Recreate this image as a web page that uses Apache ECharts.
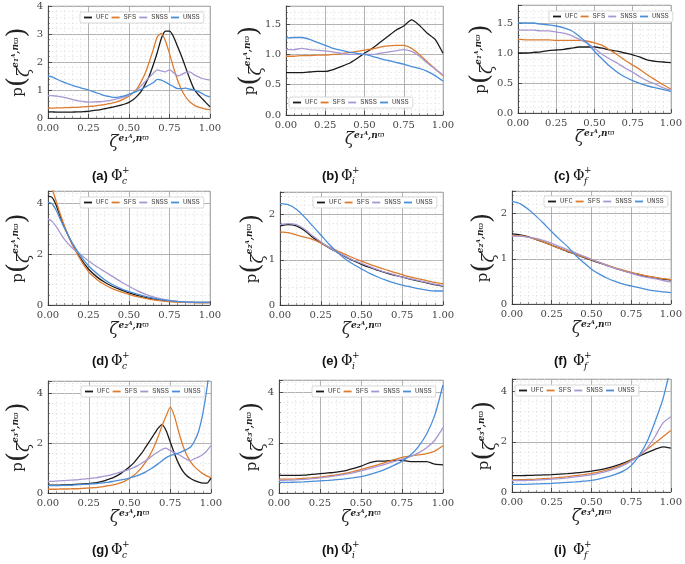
<!DOCTYPE html>
<html><head><meta charset="utf-8">
<script src="https://cdn.jsdelivr.net/npm/echarts@6/dist/echarts.min.js"></script>
<style>html,body{margin:0;padding:0;background:#fff}#c{width:685px;height:564px}</style>
</head><body><div id="c"></div>
<script>
const seriesNames = ['UFC','SFS','SNSS','UNSS'];
const seriesColors = ['#1a1a1a','#dd7c2e','#a898d2','#4a8ed8'];

const xs21 = [0,0.05,0.1,0.15,0.2,0.25,0.3,0.35,0.4,0.45,0.5,0.55,0.6,0.65,0.7,0.75,0.8,0.85,0.9,0.95,1];
const xs41 = [0,0.025,0.05,0.075,0.1,0.125,0.15,0.175,0.2,0.225,0.25,0.275,0.3,0.325,0.35,0.375,0.4,0.425,0.45,0.475,0.5,0.525,0.55,0.575,0.6,0.625,0.65,0.675,0.7,0.725,0.75,0.775,0.8,0.825,0.85,0.875,0.9,0.925,0.95,0.975,1];
const xsD = [0,0.025,0.05,0.075,0.1,0.15,0.2,0.25,0.3,0.35,0.4,0.45,0.5,0.55,0.6,0.65,0.7,0.75,0.8,0.85,0.9,0.95,1];
const xTicks = [0,0.25,0.5,0.75,1];

// (a)
const a_UFC  = [0.22,0.22,0.21,0.21,0.21,0.21,0.21,0.22,0.22,0.23,0.24,0.26,0.28,0.3,0.33,0.36,0.39,0.42,0.46,0.5,0.56,0.65,0.78,0.95,1.2,1.5,1.9,2.35,2.85,3.1,3.1,2.9,2.55,2.2,1.8,1.4,1.05,0.85,0.7,0.55,0.4];
const a_SFS  = [0.35,0.35,0.36,0.36,0.37,0.37,0.38,0.38,0.39,0.4,0.41,0.42,0.44,0.46,0.48,0.51,0.54,0.58,0.63,0.7,0.78,0.9,1.05,1.3,1.6,2.0,2.45,2.9,3.02,2.75,2.3,1.8,1.35,1.0,0.75,0.58,0.47,0.4,0.35,0.32,0.3];
const a_SNSS = [0.8,0.8,0.78,0.76,0.74,0.7,0.66,0.63,0.6,0.58,0.57,0.57,0.58,0.58,0.6,0.62,0.65,0.68,0.72,0.76,0.82,0.9,1.0,1.15,1.3,1.45,1.6,1.72,1.68,1.65,1.72,1.62,1.5,1.55,1.63,1.65,1.55,1.48,1.42,1.38,1.35];
const a_UNSS = [1.5,1.47,1.4,1.33,1.27,1.22,1.17,1.12,1.08,1.04,1.0,0.95,0.9,0.85,0.8,0.77,0.74,0.74,0.76,0.8,0.85,0.9,0.96,1.02,1.1,1.18,1.27,1.38,1.35,1.28,1.2,1.12,1.05,1.05,1.07,1.03,1.0,0.95,0.88,0.8,0.75];
// (b)
const b_UFC  = [0.7,0.7,0.7,0.71,0.72,0.72,0.75,0.8,0.85,0.93,1.02,1.1,1.2,1.3,1.4,1.47,1.57,1.48,1.35,1.25,1.02];
const b_SFS  = [0.97,0.97,0.98,0.98,0.99,0.99,1.0,1.01,1.03,1.05,1.07,1.09,1.12,1.14,1.15,1.15,1.1,1.0,0.88,0.76,0.65];
const b_SNSS = [1.08,1.08,1.1,1.08,1.07,1.06,1.04,1.02,1.0,1.0,1.0,1.0,1.02,1.04,1.06,1.08,1.05,0.97,0.86,0.76,0.66];
const b_UNSS = [1.27,1.28,1.28,1.25,1.2,1.15,1.1,1.07,1.04,1.02,1.0,0.97,0.93,0.9,0.87,0.84,0.8,0.77,0.72,0.65,0.56];
// (c)
const c_UFC  = [1.0,1.0,1.01,1.02,1.04,1.05,1.06,1.08,1.1,1.1,1.1,1.08,1.05,1.03,1.0,0.97,0.93,0.88,0.86,0.85,0.84];
const c_SFS  = [1.23,1.22,1.22,1.22,1.22,1.21,1.21,1.21,1.21,1.2,1.17,1.13,1.05,0.97,0.88,0.8,0.72,0.63,0.55,0.47,0.4];
const c_SNSS = [1.38,1.38,1.38,1.37,1.37,1.35,1.33,1.29,1.23,1.17,1.08,0.98,0.9,0.83,0.75,0.68,0.6,0.53,0.48,0.42,0.38];
const c_UNSS = [1.5,1.5,1.5,1.48,1.47,1.45,1.42,1.37,1.28,1.17,1.03,0.9,0.78,0.68,0.6,0.54,0.49,0.45,0.42,0.39,0.36];
// (d)
const d_UFC  = [4.3,4.25,3.95,3.5,3.1,2.4,1.85,1.42,1.12,0.9,0.73,0.6,0.48,0.38,0.3,0.24,0.19,0.16,0.13,0.11,0.1,0.1,0.1];
const d_SFS  = [5.0,4.6,4.1,3.6,3.15,2.4,1.8,1.32,1.02,0.8,0.64,0.52,0.42,0.33,0.26,0.2,0.16,0.13,0.11,0.1,0.09,0.08,0.08];
const d_SNSS = [3.4,3.3,3.1,2.85,2.6,2.25,2.0,1.75,1.52,1.32,1.12,0.92,0.74,0.57,0.43,0.32,0.24,0.18,0.14,0.12,0.1,0.09,0.09];
const d_UNSS = [4.05,4.0,3.75,3.4,3.05,2.45,1.95,1.55,1.25,1.0,0.8,0.65,0.53,0.43,0.34,0.27,0.21,0.17,0.14,0.12,0.11,0.1,0.1];
// (e)
const e_UFC  = [1.75,1.78,1.75,1.65,1.5,1.38,1.27,1.17,1.07,0.98,0.9,0.83,0.77,0.71,0.66,0.62,0.57,0.53,0.49,0.45,0.42];
const e_SFS  = [1.62,1.6,1.55,1.5,1.45,1.37,1.28,1.2,1.12,1.04,0.97,0.9,0.84,0.78,0.72,0.67,0.62,0.58,0.54,0.5,0.47];
const e_SNSS = [1.78,1.8,1.78,1.68,1.53,1.4,1.28,1.17,1.08,0.99,0.92,0.85,0.78,0.72,0.67,0.62,0.58,0.54,0.5,0.46,0.43];
const e_UNSS = [2.25,2.22,2.12,1.95,1.75,1.55,1.35,1.17,1.02,0.9,0.8,0.7,0.62,0.55,0.49,0.44,0.4,0.36,0.33,0.31,0.31];
// (f)
const f_UFC  = [1.55,1.53,1.49,1.43,1.37,1.3,1.23,1.16,1.1,1.03,0.97,0.91,0.85,0.79,0.74,0.69,0.65,0.61,0.58,0.55,0.53];
const f_SFS  = [1.52,1.51,1.48,1.43,1.37,1.3,1.23,1.17,1.1,1.04,0.98,0.92,0.86,0.8,0.75,0.7,0.66,0.62,0.59,0.56,0.54];
const f_SNSS = [1.5,1.5,1.48,1.45,1.4,1.34,1.27,1.2,1.13,1.06,0.99,0.92,0.85,0.79,0.73,0.68,0.63,0.59,0.56,0.52,0.49];
const f_UNSS = [2.27,2.22,2.1,1.95,1.78,1.6,1.43,1.27,1.08,0.92,0.77,0.66,0.57,0.5,0.44,0.4,0.36,0.32,0.29,0.27,0.25];
// (g)
const g_UFC  = [0.32,0.32,0.32,0.32,0.33,0.33,0.34,0.35,0.36,0.37,0.38,0.4,0.42,0.46,0.5,0.56,0.62,0.7,0.8,0.92,1.05,1.2,1.4,1.6,1.85,2.1,2.35,2.6,2.75,2.5,2.05,1.6,1.2,0.9,0.7,0.58,0.5,0.44,0.4,0.4,0.6];
const g_SFS  = [0.15,0.15,0.15,0.16,0.16,0.16,0.17,0.17,0.18,0.19,0.2,0.21,0.22,0.25,0.27,0.3,0.33,0.37,0.42,0.49,0.58,0.7,0.85,1.03,1.25,1.52,1.85,2.25,2.7,3.1,3.45,3.1,2.5,1.95,1.55,1.25,1.05,0.9,0.78,0.68,0.62];
const g_SNSS = [0.47,0.47,0.48,0.49,0.5,0.51,0.52,0.53,0.55,0.56,0.58,0.6,0.62,0.65,0.68,0.71,0.75,0.8,0.85,0.9,0.95,1.02,1.1,1.2,1.3,1.42,1.55,1.65,1.75,1.8,1.7,1.62,1.55,1.45,1.35,1.3,1.38,1.45,1.55,1.7,1.9];
const g_UNSS = [0.3,0.3,0.3,0.3,0.31,0.31,0.32,0.33,0.34,0.35,0.36,0.37,0.38,0.4,0.42,0.44,0.47,0.5,0.53,0.56,0.6,0.65,0.7,0.77,0.85,0.95,1.05,1.17,1.3,1.42,1.5,1.55,1.6,1.67,1.75,1.85,2.1,2.5,3.2,4.2,5.5];
// (h)
const h_UFC  = [0.7,0.7,0.7,0.71,0.74,0.77,0.8,0.83,0.88,0.97,1.07,1.2,1.27,1.27,1.3,1.3,1.25,1.25,1.25,1.15,1.12];
const h_SFS  = [0.55,0.55,0.56,0.58,0.6,0.63,0.68,0.72,0.78,0.85,0.93,1.03,1.12,1.22,1.32,1.42,1.47,1.52,1.57,1.67,1.88];
const h_SNSS = [0.5,0.51,0.52,0.54,0.57,0.6,0.64,0.69,0.74,0.8,0.88,0.97,1.06,1.15,1.25,1.35,1.45,1.6,1.8,2.1,2.6];
const h_UNSS = [0.42,0.42,0.43,0.44,0.46,0.48,0.5,0.53,0.56,0.6,0.65,0.73,0.83,0.95,1.1,1.27,1.5,1.85,2.35,3.1,4.3];
// (i)
const i_UFC  = [0.65,0.65,0.66,0.67,0.68,0.69,0.71,0.73,0.76,0.79,0.83,0.88,0.95,1.04,1.15,1.28,1.42,1.57,1.7,1.8,1.75];
const i_SFS  = [0.48,0.49,0.5,0.51,0.53,0.55,0.58,0.61,0.65,0.69,0.74,0.8,0.88,0.98,1.1,1.26,1.45,1.7,1.95,2.2,2.45];
const i_SNSS = [0.45,0.45,0.46,0.47,0.49,0.51,0.53,0.56,0.6,0.64,0.68,0.75,0.83,0.93,1.06,1.23,1.45,1.75,2.2,2.75,3.0];
const i_UNSS = [0.3,0.3,0.31,0.32,0.33,0.34,0.36,0.38,0.4,0.43,0.46,0.52,0.6,0.7,0.83,1.05,1.45,2.0,2.8,3.7,5.0];

const panels = [
  {letter:'a', sub:'c', comp:'₁', xs:xs41, ys:[a_UFC,a_SFS,a_SNSS,a_UNSS], ymax:4,   yint:1,   ydec:0, ygap:14.5, grid:{left:48, top:6,   width:162, height:112}, legend:{left:80,  top:12},  cap:[111,178]},
  {letter:'b', sub:'i', comp:'₁', xs:xs21, ys:[b_UFC,b_SFS,b_SNSS,b_UNSS], ymax:1.8, yint:0.5, ydec:1, ygap:21,   grid:{left:286,top:6,   width:157, height:109}, legend:{left:289, top:97},  cap:[341,178]},
  {letter:'c', sub:'f', comp:'₁', xs:xs21, ys:[c_UFC,c_SFS,c_SNSS,c_UNSS], ymax:1.8, yint:0.5, ydec:1, ygap:22,   grid:{left:518,top:5,   width:156, height:108}, legend:{left:549, top:11},  cap:[573,178]},
  {letter:'d', sub:'c', comp:'₂', xs:xsD,  ys:[d_UFC,d_SFS,d_SNSS,d_UNSS], ymax:4.5, yint:2,   ydec:0, ygap:14.5, grid:{left:48, top:191, width:162, height:114}, legend:{left:80,  top:197}, cap:[111,363]},
  {letter:'e', sub:'i', comp:'₂', xs:xs21, ys:[e_UFC,e_SFS,e_SNSS,e_UNSS], ymax:2.5, yint:1,   ydec:0, ygap:13,   grid:{left:280,top:192, width:163, height:113}, legend:{left:313, top:197}, cap:[341,363]},
  {letter:'f', sub:'f', comp:'₂', xs:xs21, ys:[f_UFC,f_SFS,f_SNSS,f_UNSS], ymax:2.5, yint:1,   ydec:0, ygap:13.5, grid:{left:512,top:191, width:162, height:113}, legend:{left:544, top:196}, cap:[573,363]},
  {letter:'g', sub:'c', comp:'₃', xs:xs41, ys:[g_UFC,g_SFS,g_SNSS,g_UNSS], ymax:4.5, yint:2,   ydec:0, ygap:14.5, grid:{left:48, top:381, width:163, height:112}, legend:{left:81,  top:386}, cap:[111,552]},
  {letter:'h', sub:'i', comp:'₃', xs:xs21, ys:[h_UFC,h_SFS,h_SNSS,h_UNSS], ymax:4.5, yint:2,   ydec:0, ygap:12,   grid:{left:279,top:380, width:164, height:113}, legend:{left:312, top:386}, cap:[341,552]},
  {letter:'i', sub:'f', comp:'₃', xs:xs21, ys:[i_UFC,i_SFS,i_SNSS,i_UNSS], ymax:4.5, yint:2,   ydec:0, ygap:13,   grid:{left:512,top:379, width:162, height:113}, legend:{left:515, top:385}, cap:[573,552]}
];

const serif = 'DejaVu Serif';
const xRich = {
  z:  {fontFamily: serif, fontStyle: 'italic', fontSize: 17, color: '#222', verticalAlign: 'bottom', lineHeight: 17, padding: [5, 0, 0, 0]},
  s:  {fontFamily: serif, fontStyle: 'italic', fontWeight: 'bold', fontSize: 9, color: '#222', verticalAlign: 'top', lineHeight: 9},
  w:  {fontFamily: serif, fontSize: 8, color: '#222', verticalAlign: 'top', lineHeight: 8}
};
const yRich = {
  p:  {fontFamily: serif, fontSize: 15, color: '#222', verticalAlign: 'middle', lineHeight: 30},
  b:  {fontFamily: serif, fontSize: 26, color: '#222', verticalAlign: 'middle', lineHeight: 30},
  z:  {fontFamily: serif, fontStyle: 'italic', fontSize: 17, color: '#222', verticalAlign: 'bottom', lineHeight: 17},
  s:  {fontFamily: serif, fontStyle: 'italic', fontWeight: 'bold', fontSize: 9, color: '#222', verticalAlign: 'top', lineHeight: 9, padding: [8, 0, 0, 0]},
  w:  {fontFamily: serif, fontSize: 8, color: '#222', verticalAlign: 'top', lineHeight: 8, padding: [8, 0, 0, 0]}
};

const grids = [], xAxes = [], yAxes = [], series = [], legends = [], graphics = [];
panels.forEach((P, k) => {
  grids.push(Object.assign({show: true, borderColor: '#bdbdbd', borderWidth: 0.8, backgroundColor: '#fff'}, P.grid));
  const common = {
    gridIndex: k, type: 'value', min: 0,
    axisLine: {show: true, onZero: false, lineStyle: {color: '#333', width: 0.8}},
    axisTick: {show: true, inside: true, length: 4, lineStyle: {color: '#333', width: 0.8}},
    minorTick: {show: true, splitNumber: 5, length: 2, lineStyle: {color: '#555', width: 0.6}},
    splitLine: {show: true, lineStyle: {color: '#a0a0a0', width: 0.8}},
    minorSplitLine: {show: true, lineStyle: {color: '#e2e2e2', width: 0.6, type: [2, 2]}},
    nameLocation: 'middle',
    nameMoveOverlap: false
  };
  xAxes.push(Object.assign({}, common, {
    max: 1, interval: 0.25,
    axisLabel: {fontFamily: serif, fontSize: 10, color: '#444', margin: 5,
      formatter: v => xTicks.some(t => Math.abs(t - v) < 1e-6) ? v.toFixed(2) : ''},
    name: '{z|ζ}{s|e' + P.comp + 'ᴬ,n}{w|ϖ}', nameGap: 16,
    nameTextStyle: {rich: xRich}
  }));
  yAxes.push(Object.assign({}, common, {
    max: P.ymax, interval: P.yint,
    axisLabel: {fontFamily: serif, fontSize: 10, color: '#444', margin: 5,
      formatter: v => Math.abs(v / P.yint - Math.round(v / P.yint)) > 1e-6 ? '' : v.toFixed(P.ydec)},
    name: '{p|p}{b|(}{z|ζ}{s|e' + P.comp + 'ᴬ,n}{w|ϖ}{b|)}', nameRotate: 90, nameGap: P.ygap,
    nameTextStyle: {rich: yRich}
  }));
  P.ys.forEach((ys, j) => {
    series.push({
      name: seriesNames[j], type: 'line', xAxisIndex: k, yAxisIndex: k,
      data: P.xs.map((x, i) => [x, ys[i]]),
      showSymbol: false, symbol: 'none', smooth: 0.2, clip: true,
      lineStyle: {color: seriesColors[j], width: 1.3}, itemStyle: {color: seriesColors[j]},
      animation: false
    });
  });
  legends.push({
    data: seriesNames.slice(), left: P.legend.left, top: P.legend.top, orient: 'horizontal',
    icon: 'rect', itemWidth: 8, itemHeight: 1.8, itemGap: 3, padding: [2, 4],
    backgroundColor: '#fff', borderColor: '#cfcfcf', borderWidth: 0.8, borderRadius: 2,
    selectedMode: false,
    textStyle: {fontFamily: 'Liberation Mono', fontSize: 7, color: '#444', padding: [0, 0, 0, -1]}
  });
  const [cx, cy] = P.cap;
  const L = cx - 19;
  graphics.push(
    {type: 'text', left: L, top: cy - 8, style: {text: '(' + P.letter + ')', font: 'bold 13px "Liberation Sans"', fill: '#111'}},
    {type: 'text', left: L + 19, top: cy - 9, style: {text: 'Φ', font: '14px "DejaVu Serif"', fill: '#111'}},
    {type: 'text', left: L + 30, top: cy - 1, style: {text: P.sub, font: 'italic 9px "DejaVu Serif"', fill: '#111'}},
    {type: 'text', left: L + 30, top: cy - 12, style: {text: '+', font: '9px "DejaVu Serif"', fill: '#111'}}
  );
});

const chart = echarts.init(document.getElementById('c'), null, {renderer: 'canvas'});
chart.setOption({
  animation: false,
  backgroundColor: '#fff',
  grid: grids, xAxis: xAxes, yAxis: yAxes, series: series, legend: legends, graphic: graphics
});
</script>
</body></html>
